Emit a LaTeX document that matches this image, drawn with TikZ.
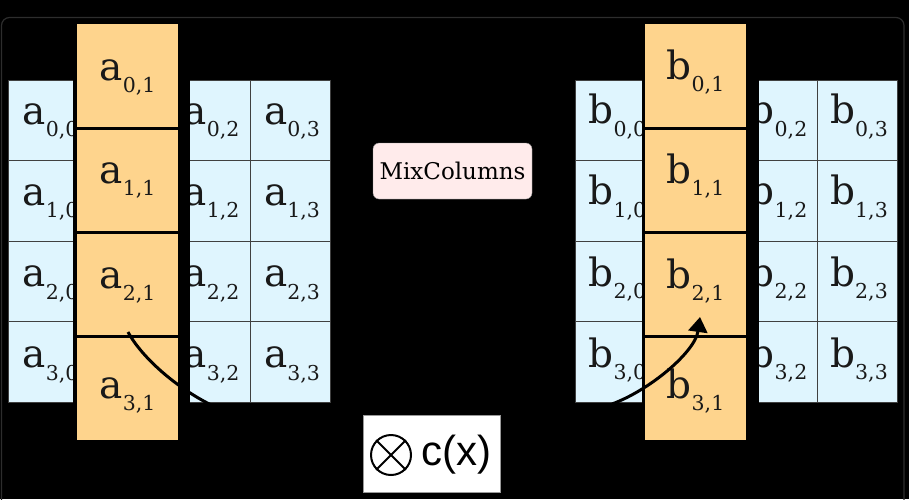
\documentclass[tikz,border=0pt]{standalone}
\usepackage{fontspec}
\setmainfont{DejaVu Serif}
\newfontfamily\cxfont{Liberation Sans}
\usetikzlibrary{arrows.meta}
\definecolor{cellblue}{RGB}{223,245,254}
\definecolor{cellorange}{RGB}{254,212,141}
\definecolor{mixpink}{RGB}{255,235,235}
\definecolor{framegray}{RGB}{45,45,45}
\definecolor{celltextcol}{RGB}{25,25,25}
\newcommand{\celltxt}[3]{{\fontsize{39}{40}\selectfont #1\raisebox{-12.5pt}{\fontsize{20.5}{22}\selectfont #2,#3}}}
\begin{document}
\begin{tikzpicture}[x=1pt,y=-1pt,
  bluecell/.style={draw=black!75, line width=1pt, fill=cellblue, minimum width=80.5pt, minimum height=80.5pt, inner sep=0pt, anchor=north west},
  orangecell/.style={fill=cellorange, draw=none, minimum width=101pt, minimum height=104pt, inner sep=0pt, anchor=north west},
  maskbox/.style={fill=black, draw=none, minimum width=117pt, minimum height=323pt, inner sep=0pt, anchor=north west},
  celltext/.style={anchor=base, inner sep=0pt, text=celltextcol},
  sepline/.style={line width=3pt, black},
  curveline/.style={line width=3pt, black},
]
\useasboundingbox (0,0) rectangle (909,499);
\clip (0,0) rectangle (909,499);
\fill[black] (0,0) rectangle (909,499);
\draw[framegray, line width=1.2pt, rounded corners=8pt] (1.5,17.5) rectangle (904,540);

% ---------- left state (a) ----------
\foreach \r in {0,1,2,3}{
  \foreach \c in {0,2,3}{
    \node[bluecell] (a\r\c) at ({8+80.5*\c},{79.5+80.5*\r}) {};
    \node[celltext] (ta\r\c) at ({8+80.5*\c+42.5},{124+81.3*\r}) {\celltxt{a}{\r}{\c}};
  }
}
\node[maskbox] (amask) at (73,79.5) {};
\foreach \r in {0,1,2,3}{
  \node[orangecell] (a\r1) at (77,{24+104*\r}) {};
}
\foreach \r in {0,1,2}{
  \draw[sepline] ([xshift=-4pt]a\r1.south west) -- (a\r1.south east);
}
\foreach \r/\yy in {0/80,1/183,2/288,3/398}{
  \node[celltext] (ta\r1) at (127.5,\yy) {\celltxt{a}{\r}{1}};
}

% ---------- right state (b) ----------
\foreach \r in {0,1,2,3}{
  \foreach \c in {0,2,3}{
    \node[bluecell] (b\r\c) at ({575+80.5*\c},{79.5+80.5*\r}) {};
    \node[celltext] (tb\r\c) at ({575+80.5*\c+42.5},{123.5+81.3*\r}) {\celltxt{b}{\r}{\c}};
  }
}
\node[maskbox] (bmask) at (642,79.5) {};
\foreach \r in {0,1,2,3}{
  \node[orangecell] (b\r1) at (645,{24+104*\r}) {};
}
\foreach \r in {0,1,2}{
  \draw[sepline] ([xshift=-3pt]b\r1.south west) -- (b\r1.south east);
}
\foreach \r/\yy in {0/79,1/183,2/288,3/398}{
  \node[celltext] (tb\r1) at (695.5,\yy) {\celltxt{b}{\r}{1}};
}

% ---------- operation boxes ----------
\node[draw=black!45, fill=mixpink, rounded corners=6pt, minimum width=159pt, minimum height=56pt, inner sep=0pt] (mix) at (452.5,171) {\fontsize{23}{25}\selectfont MixColumns};
\node[draw=black!40, fill=white, minimum width=137pt, minimum height=77pt, inner sep=0pt] (cx) at (431.5,453.5) {};
\node[circle, draw=black, line width=2pt, minimum size=40pt, inner sep=0pt] (cxsym) at (391,455) {};
\draw[line width=2pt] (cxsym.45) -- (cxsym.225);
\draw[line width=2pt] (cxsym.135) -- (cxsym.315);
\node[anchor=base west, inner sep=0pt] (cxtext) at (421,465) {\cxfont\fontsize{42}{44}\selectfont c(x)};

% ---------- arrows ----------
\coordinate (ls) at (128,332);
\coordinate (le) at (222,410);
\draw[curveline] (ls) .. controls (142,358) and (180,392) .. (le);
\coordinate (rs) at (612,404);
\coordinate (re) at (700,317);
\draw[curveline, -{Triangle[length=15pt,width=19pt]}] (rs) .. controls (650,390) and (695,352) .. (re);
\end{tikzpicture}
\end{document}
